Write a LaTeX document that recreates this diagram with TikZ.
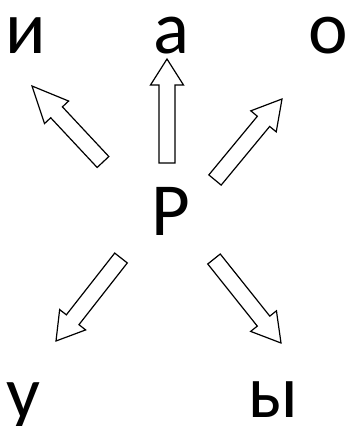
\documentclass[tikz,border=0pt]{standalone}
\usepackage{fontspec}
\setmainfont{Carlito}
\usetikzlibrary{calc}

\tikzset{
  letter/.style={inner sep=0pt, anchor=base, font=\fontsize{75}{80}\selectfont},
  blockline/.style={draw=black, line width=1.2pt, fill=white, line join=miter},
}

% hollow block arrow: tail, tip, head length
\newcommand{\hollowarrow}[3]{%
  \coordinate (neck) at ($(#2)!#3!(#1)$);
  \draw[blockline] ($(#1)!8pt!90:(#2)$) -- ($(neck)!8pt!90:(#2)$)
    -- ($(neck)!16.5pt!90:(#2)$) -- (#2) -- ($(neck)!16.5pt!-90:(#2)$)
    -- ($(neck)!8pt!-90:(#2)$) -- ($(#1)!8pt!-90:(#2)$) -- cycle;
}

\begin{document}
\begin{tikzpicture}[x=1pt, y=-1pt]
  \useasboundingbox (0,0) rectangle (347,426);

  % --- LETTERS ---
  \node[letter] (li) at (26,53) {и};
  \node[letter] (la) at (171,53) {а};
  \node[letter] (lo) at (328,53) {о};
  \node[letter] (lr) at (171,235) {Р};
  \node[letter] (lu) at (23.5,418) {у};
  \node[letter] (ly) at (273.5,417) {ы};

  % --- ARROWS FROM THE CENTRE ---
  \foreach \name/\tx/\ty/\hx/\hy/\hl in {
      i/103/162/32/86/36pt,
      a/167/163/167/59/26pt,
      o/215/180/282/99/29pt,
      u/121/258/56/341/27pt,
      y/214/259/281/343/28pt} {
    \coordinate (\name-s) at (\tx,\ty);
    \coordinate (\name-e) at (\hx,\hy);
    \hollowarrow{\name-s}{\name-e}{\hl}
  }
\end{tikzpicture}
\end{document}
